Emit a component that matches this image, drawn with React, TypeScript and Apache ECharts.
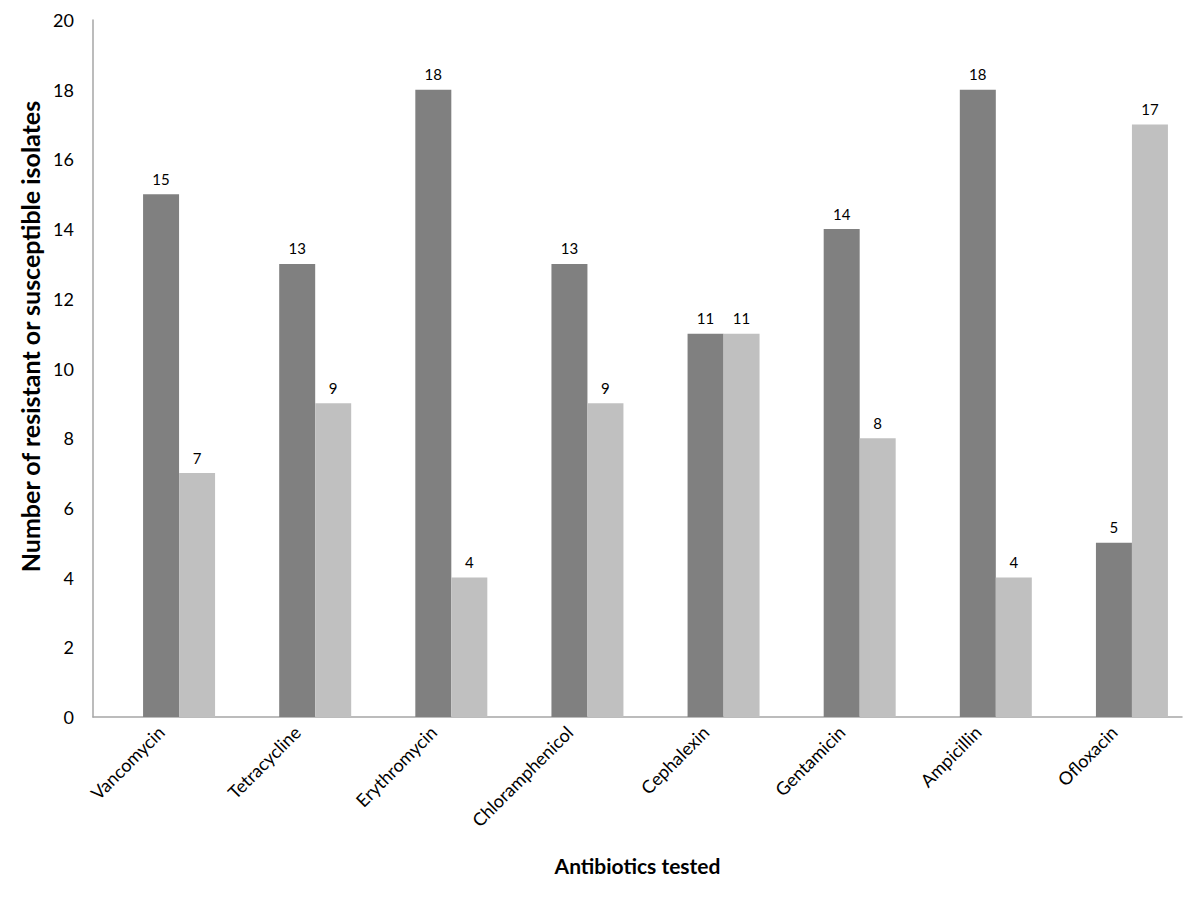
import React, { useEffect, useRef } from "react";
import * as echarts from "echarts";

const categories = [
  "Vancomycin",
  "Tetracycline",
  "Erythromycin",
  "Chloramphenicol",
  "Cephalexin",
  "Gentamicin",
  "Ampicillin",
  "Ofloxacin",
];
const hiddenSeries: (number | null)[] = [null, null, null, null, null, null, null, null];
const resistant = [15, 13, 18, 13, 11, 14, 18, 5];
const susceptible = [7, 9, 4, 9, 11, 8, 4, 17];
const yTicks = { min: 0, max: 20, interval: 2 };

const FONT = "Lato, 'Open Sans', sans-serif";

export default function App() {
  const ref = useRef<HTMLDivElement>(null);
  useEffect(() => {
    if (!ref.current) return;
    const chart = echarts.init(ref.current, undefined, { renderer: "svg" });
    const labelStyle = {
      show: true,
      position: "top" as const,
      distance: 8,
      fontSize: 15,
      color: "#000",
      fontFamily: FONT,
    };
    chart.setOption({
      animation: false,
      backgroundColor: "#fff",
      textStyle: { fontFamily: FONT },
      grid: { left: 93, right: 18, top: 20, bottom: 183, containLabel: false },
      xAxis: {
        type: "category",
        data: categories,
        boundaryGap: true,
        axisLine: { show: true, lineStyle: { color: "#a6a6a6", width: 1.5 } },
        axisTick: { show: false },
        axisLabel: {
          rotate: 45,
          interval: 0,
          margin: 12,
          fontSize: 18,
          color: "#000",
          fontFamily: FONT,
        },
        name: "Antibiotics tested",
        nameLocation: "middle",
        nameGap: 138,
        nameTextStyle: { fontSize: 21, fontWeight: "bold", color: "#000", fontFamily: FONT },
      },
      yAxis: {
        type: "value",
        min: yTicks.min,
        max: yTicks.max,
        interval: yTicks.interval,
        axisLine: { show: true, lineStyle: { color: "#a6a6a6", width: 1.5 } },
        axisTick: { show: false },
        splitLine: { show: false },
        axisLabel: { fontSize: 18, color: "#000", margin: 19, fontFamily: FONT },
        name: "Number of resistant or susceptible isolates",
        nameLocation: "middle",
        nameGap: 44,
        nameTextStyle: {
          fontSize: 25,
          fontWeight: "bold",
          color: "#000",
          fontFamily: FONT,
          padding: [0, 0, 0, 64],
        },
      },
      series: [
        {
          type: "bar",
          name: "",
          data: hiddenSeries,
          barWidth: 36,
          barGap: "0%",
          itemStyle: { color: "transparent" },
        },
        {
          type: "bar",
          name: "Resistant",
          data: resistant,
          barWidth: 36,
          barGap: "0%",
          itemStyle: { color: "#808080" },
          label: labelStyle,
        },
        {
          type: "bar",
          name: "Susceptible",
          data: susceptible,
          barWidth: 36,
          barGap: "0%",
          itemStyle: { color: "#c0c0c0" },
          label: labelStyle,
        },
      ],
    });
    return () => chart.dispose();
  }, []);
  return (
    <div
      ref={ref}
      style={{ position: "fixed", left: 0, top: 0, width: 1200, height: 900, background: "#fff" }}
    />
  );
}
